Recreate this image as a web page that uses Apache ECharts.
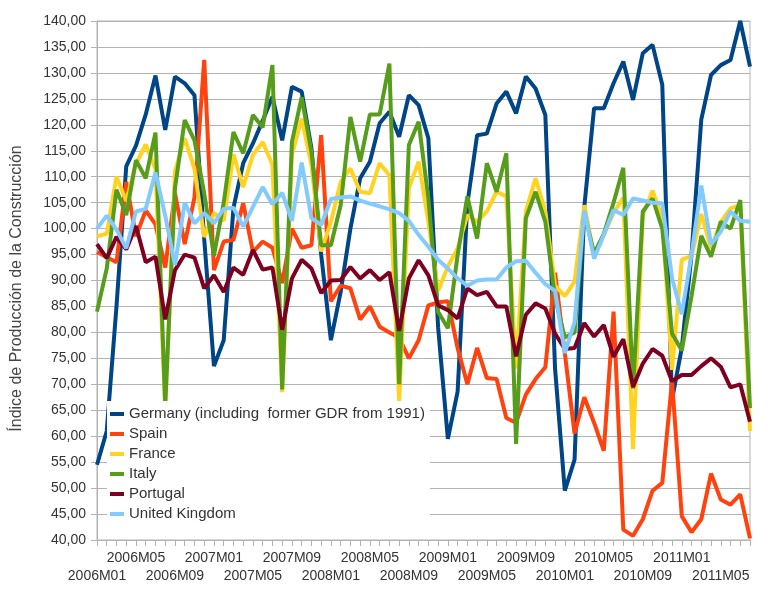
<!DOCTYPE html>
<html>
<head>
<meta charset="utf-8">
<script src="https://cdn.jsdelivr.net/npm/echarts@6/dist/echarts.min.js"></script>
<style>
html,body{margin:0;padding:0;background:#fff;}
#chart{width:769px;height:595px;}
</style>
</head>
<body>
<div id="chart"></div>
<script>
const categories = [
"2006M01","2006M02","2006M03","2006M04","2006M05","2006M06","2006M07","2006M08","2006M09","2006M10","2006M11","2006M12",
"2007M01","2007M02","2007M03","2007M04","2007M05","2007M06","2007M07","2007M08","2007M09","2007M10","2007M11","2007M12",
"2008M01","2008M02","2008M03","2008M04","2008M05","2008M06","2008M07","2008M08","2008M09","2008M10","2008M11","2008M12",
"2009M01","2009M02","2009M03","2009M04","2009M05","2009M06","2009M07","2009M08","2009M09","2009M10","2009M11","2009M12",
"2010M01","2010M02","2010M03","2010M04","2010M05","2010M06","2010M07","2010M08","2010M09","2010M10","2010M11","2010M12",
"2011M01","2011M02","2011M03","2011M04","2011M05","2011M06","2011M07","2011M08"];

const seriesNames = ["Germany (including  former GDR from 1991)","Spain","France","Italy","Portugal","United Kingdom"];
const seriesColors = ["#004586","#ff420e","#ffd320","#579d1c","#7e0021","#83caff"];

const germany = [54.5,61,85,112,116,122,129.5,119,129.3,128,125.7,98,
73.5,78.5,104,112.6,116.4,120.8,125.4,117,127.3,126.4,115.5,95,
78.5,87.8,100,109.7,112.9,120.3,122.5,117.7,125.7,123.8,117.4,81,
59.5,68.6,104.8,118,118.3,124.1,126.4,122.2,129.3,127,121.9,73,
49.5,55.5,104.2,123.2,123.2,128,132.2,124.8,133.8,135.4,127.7,67,
77,95,121,129.6,131.5,132.5,140,131.2];

const spain = [95.5,94.5,93.5,109,98.5,103.5,100.8,92.5,106.8,97,106,132.5,
92,97.5,97.8,104.9,95.5,97.5,96.3,89.5,100,96.3,96.8,118,
86,89,88.5,82.5,85,81.1,80,79,75,78.5,85.2,85.8,
86,77,70,77,71.2,71,63.5,62.6,68,71,73.3,91.5,
76,60.5,67.5,62.6,57.2,84,42,40.8,44,49.5,51,70.6,
44.6,41.5,44,52.8,47.8,46.8,48.8,40.3];

const france = [98.5,99,110,105.3,112.5,116.2,111.5,65,111,117.4,111.5,98.4,
103,101.5,114.3,108,114.2,116.7,112.3,68.5,114.2,121.2,112.3,95.6,
101.3,109,111.6,107.1,106.8,112.6,110.3,66.5,107.8,112.9,101.3,88,
92.7,96.2,102.6,101.3,103.3,107.1,106.2,73,103.3,109.7,103.3,89,
87,89.8,104.5,95,98.8,103,106,57.5,102.6,107.3,102,72.8,
94,94.7,102.8,96.2,101.3,103.9,104.5,61];

const italy = [84,92.3,107.5,102.6,113.2,109.7,118.5,66,107.8,120.9,117,106.8,
94.8,105,118.6,114.5,121.9,119.5,131.5,69,116.7,125.3,114.8,96.8,
96.8,104.5,121.5,112.9,122,122,131.8,70,116.1,120.6,105.8,84,
80.8,94.9,106.2,98.1,112.6,107.1,114.5,58.5,102,107.1,101.3,86.6,
79,80,103,95.2,99,105,111.7,69.2,103.3,105.8,100,79.8,
76.5,87,98.6,94.6,101.3,100,105.5,65.4];

const portugal = [97,94.3,98.4,96,100.5,93.5,94.6,82.5,92,95,94.4,88.5,
91,87.8,92.5,91.1,95.9,92.1,92.5,80.5,90.4,94,92.3,87.6,
90,90.1,92.6,90.4,92,90.1,91.6,80.3,90.4,93.9,91,85.2,
84.3,82.7,88.5,87.2,87.8,85,85,75.4,83.4,85.6,84.6,79.8,
76.8,77,81.8,79.2,81.4,75.3,78.7,69.5,74,76.8,75.5,70.6,
71.8,71.8,73.5,75,73.4,69.4,70,62.8];

const uk = [100,102.5,99.8,96.2,103.3,103.8,110.8,102.5,93,105,101,103,
101,103.8,104,100.4,104.2,108,104.7,106.9,101.5,112.7,102,100.7,
105.7,106,106.2,105.4,104.8,104.3,103.7,103,101.5,98.8,96.5,94,
92.3,90.4,89,90,90.2,90.2,92.5,93.7,93.8,91.5,89.3,88,
76,82,103.5,94.2,98.8,103.6,102.6,105.8,105.4,105,104.9,90.5,
83.5,95,108.3,97,99.4,103.3,101.5,101.3];

const yTitle = "Índice de Producción de la Construcción";
const yMin = 40, yMax = 140, yStep = 5;

const allData = [germany, spain, france, italy, portugal, uk];
const FONT = "Liberation Sans";

const labelStyle = {fontFamily: FONT, fontSize: 14, color: '#333333'};

const chart = echarts.init(document.getElementById('chart'), null, {renderer:'canvas'});
chart.setOption({
  animation: false,
  backgroundColor: '#ffffff',
  textStyle: {fontFamily: FONT},
  grid: {left: 97, right: 19, top: 21, bottom: 55, show: true, borderColor: '#b3b3b3', borderWidth: 1, backgroundColor: 'transparent', outerBoundsMode: 'none'},
  legend: {
    data: seriesNames,
    orient: 'vertical',
    left: 107, top: 401,
    backgroundColor: '#ffffff',
    padding: [3, 5, 3, 3],
    itemGap: 0,
    itemWidth: 14, itemHeight: 4,
    icon: 'rect',
    selectedMode: false,
    textStyle: {fontFamily: FONT, fontSize: 15, color: '#333333', lineHeight: 20}
  },
  xAxis: [{
    // main axis with the lower row of labels (2006M01, 2006M09, ...)
    type: 'category',
    data: categories,
    boundaryGap: false,
    position: 'bottom',
    axisLine: {lineStyle: {color: '#b3b3b3', width: 1}},
    axisTick: {show: true, interval: 0, length: 6, lineStyle: {color: '#b3b3b3'}},
    axisLabel: Object.assign({
      interval: function (idx) { return idx % 8 === 0; },
      margin: 29, showMinLabel: true
    }, labelStyle),
    splitLine: {show: false}
  }, {
    // overlay axis carrying only the upper row of labels (2006M05, 2007M01, ...)
    type: 'category',
    data: categories,
    boundaryGap: false,
    position: 'bottom',
    offset: 0,
    axisLine: {show: false},
    axisTick: {show: false},
    axisLabel: Object.assign({
      interval: function (idx) { return idx % 8 === 4; },
      margin: 11
    }, labelStyle),
    splitLine: {show: false}
  }],
  yAxis: {
    type: 'value',
    min: yMin, max: yMax, interval: yStep,
    name: yTitle,
    nameLocation: 'middle',
    nameGap: 72,
    nameRotate: 90,
    nameTextStyle: {fontFamily: FONT, fontSize: 16, color: '#444444', padding: [0, 16, 0, 0]},
    axisLine: {show: true, lineStyle: {color: '#b3b3b3', width: 1}},
    axisTick: {show: true, length: 6, lineStyle: {color: '#b3b3b3'}},
    axisLabel: {
      fontFamily: FONT, fontSize: 14, color: '#333333', margin: 11,
      formatter: function (v) { return v.toFixed(2).replace('.', ','); }
    },
    splitLine: {show: true, lineStyle: {color: '#b3b3b3', width: 1}}
  },
  series: seriesNames.map(function (n, k) {
    return {
      name: n,
      type: 'line',
      xAxisIndex: 0,
      data: allData[k],
      showSymbol: false,
      symbol: 'none',
      color: seriesColors[k],
      lineStyle: {width: 4, color: seriesColors[k]},
      emphasis: {disabled: true},
      z: 2 + k * 0.01
    };
  })
});
</script>
</body>
</html>
